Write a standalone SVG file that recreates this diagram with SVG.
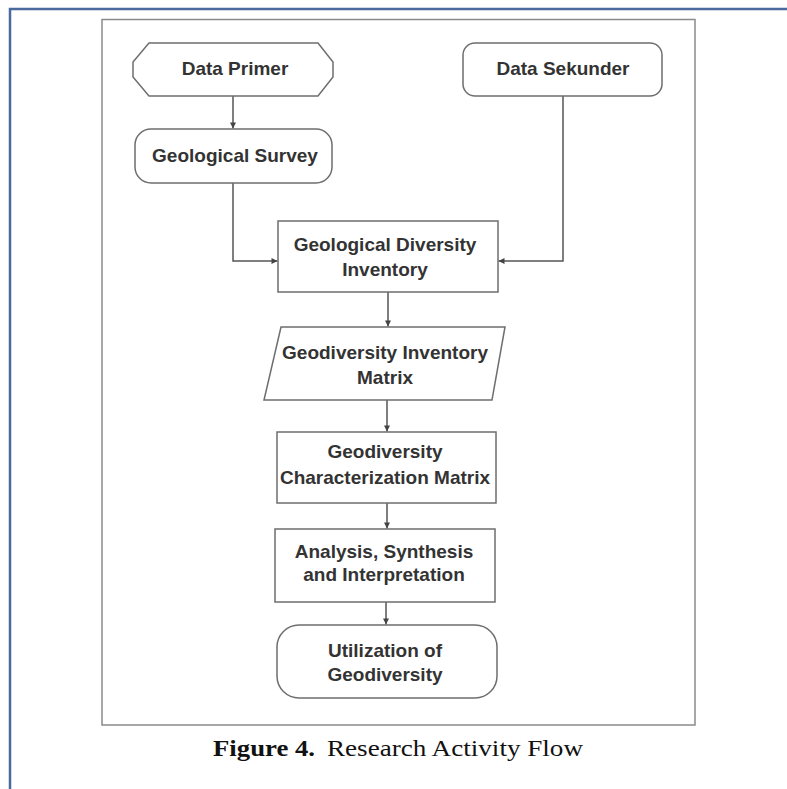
<svg xmlns="http://www.w3.org/2000/svg" width="787" height="789" viewBox="0 0 787 789">
<defs>
<style>
.node{fill:#fff;stroke:#6e6e6e;stroke-width:1.5}
.lbl{font-family:"Liberation Sans",Arial,sans-serif;font-weight:bold;font-size:19px;fill:#333;text-anchor:middle}
.conn{fill:none;stroke:#555;stroke-width:1.5}
.cap{font-family:"Liberation Serif","Times New Roman",serif;font-size:24px;fill:#111}
</style>
<marker id="arr" viewBox="0 0 10 10" refX="10" refY="5" markerWidth="7" markerHeight="6" markerUnits="userSpaceOnUse" orient="auto"><path d="M0,0 L10,5 L0,10 z" fill="#444"/></marker>
</defs>
<rect x="0" y="0" width="787" height="789" fill="#fff"/>
<path d="M10,789 V9 H787" fill="none" stroke="#4a6a9e" stroke-width="2.5"/>
<rect x="102" y="19.5" width="593" height="705.5" fill="#fff" stroke="#8a8a8a" stroke-width="1.5"/>

<g id="connectors">
<path class="conn" d="M233,96 V128.5" marker-end="url(#arr)"/>
<path class="conn" d="M233,183 V261 H277.5" marker-end="url(#arr)"/>
<path class="conn" d="M563,96 V261 H498.5" marker-end="url(#arr)"/>
<path class="conn" d="M388,292 V326.5" marker-end="url(#arr)"/>
<path class="conn" d="M387,400 V431.5" marker-end="url(#arr)"/>
<path class="conn" d="M387,503 V528.5" marker-end="url(#arr)"/>
<path class="conn" d="M386,602 V624.5" marker-end="url(#arr)"/>
</g>

<g id="data-primer">
<polygon class="node" points="149,43 318,43 333,62 333,77 318,96 149,96 133,77 133,62"/>
<text class="lbl" x="235" y="75">Data Primer</text>
</g>
<g id="data-sekunder">
<rect class="node" x="463" y="43" width="199" height="53" rx="12"/>
<text class="lbl" x="563" y="75">Data Sekunder</text>
</g>
<g id="geological-survey">
<rect class="node" x="135" y="129" width="197" height="54" rx="16"/>
<text class="lbl" x="235" y="162">Geological Survey</text>
</g>
<g id="geological-diversity-inventory">
<rect class="node" x="278" y="221" width="220" height="71"/>
<text class="lbl" x="385" y="251">Geological Diversity</text>
<text class="lbl" x="385" y="276">Inventory</text>
</g>
<g id="geodiversity-inventory-matrix">
<polygon class="node" points="281,327 505,327 492,400 264,400"/>
<text class="lbl" x="385" y="359">Geodiversity Inventory</text>
<text class="lbl" x="385" y="384">Matrix</text>
</g>
<g id="geodiversity-characterization-matrix">
<rect class="node" x="277" y="432" width="219" height="71"/>
<text class="lbl" x="385" y="458">Geodiversity</text>
<text class="lbl" x="385" y="484">Characterization Matrix</text>
</g>
<g id="analysis-synthesis-interpretation">
<rect class="node" x="275" y="529" width="220" height="73"/>
<text class="lbl" x="384" y="558">Analysis, Synthesis</text>
<text class="lbl" x="384" y="581">and Interpretation</text>
</g>
<g id="utilization-of-geodiversity">
<rect class="node" x="277" y="625" width="220" height="73" rx="22"/>
<text class="lbl" x="385" y="657">Utilization of</text>
<text class="lbl" x="385" y="681">Geodiversity</text>
</g>

<g id="caption">
<text class="cap" x="213" y="756" font-weight="bold" textLength="102" lengthAdjust="spacingAndGlyphs">Figure 4.</text>
<text class="cap" x="327" y="756" textLength="256" lengthAdjust="spacingAndGlyphs">Research Activity Flow</text>
</g>
</svg>
